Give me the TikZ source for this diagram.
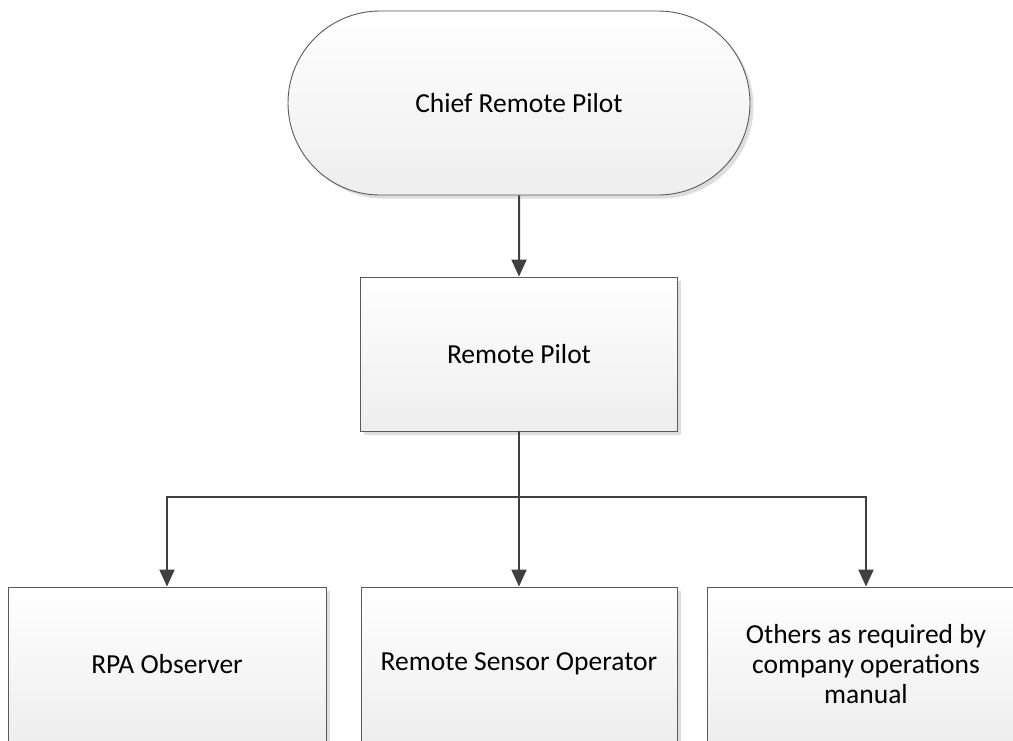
\documentclass[tikz,border=0pt]{standalone}
\usepackage{fontspec}
\setmainfont{Carlito}
\usetikzlibrary{shapes.misc,shadows,arrows.meta}
\definecolor{edge}{HTML}{5A5A5A}
\definecolor{wire}{HTML}{404040}
\definecolor{shade}{HTML}{EEEEEE}
\tikzset{
  card/.style={draw=edge, line width=0.9pt, top color=white, bottom color=shade,
    drop shadow={shadow xshift=3.5pt, shadow yshift=-3.5pt, fill=black!13, opacity=1},
    font=\fontsize{27.5}{30}\selectfont, text=black, inner sep=0pt},
  stadium/.style={card, rounded rectangle, minimum width=462pt, minimum height=184pt},
  rolebox/.style={card, rectangle, minimum width=317pt, minimum height=154pt, align=center},
  link/.style={draw=wire, line width=2pt, -{Triangle[length=17pt,width=15pt]}},
  plain/.style={draw=wire, line width=2pt}
}
\begin{document}
\begin{tikzpicture}[x=1pt,y=-1pt]
  \useasboundingbox (0,0) rectangle (1013,740);
  \clip (0,0) rectangle (1013,740);
  \node[stadium] (chief) at (519,103) {Chief Remote Pilot};
  \node[rolebox] (rp) at (519,354) {Remote Pilot};
  \node[rolebox, minimum width=318pt] (obs) at (167,664) {RPA Observer};
  \node[rolebox, minimum width=316pt] (rso) at (519,664) {Remote Sensor Operator};
  \node[rolebox, minimum width=318pt] (oth) at (866,664) {Others as required by\\company operations\\manual};
  \coordinate (bus) at (519,497);
  \draw[link] (chief) -- (rp);
  \draw[plain] (rp) -- (bus);
  \draw[link] (bus) -- (rso);
  \draw[link] (bus) -| (obs);
  \draw[link] (bus) -| (oth);
\end{tikzpicture}
\end{document}
